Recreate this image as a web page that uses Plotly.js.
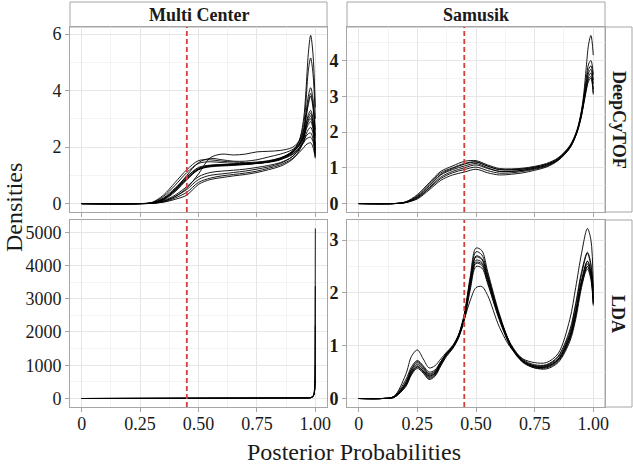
<!DOCTYPE html>
<html><head><meta charset="utf-8">
<script src="https://cdn.plot.ly/plotly-3.0.1.min.js"></script>
<style>html,body{margin:0;padding:0;background:#fff}#chart{width:633px;height:464px}</style>
</head><body><div id="chart"></div>
<script>
// ---------- tick labels / categories ----------
const colLabels = ['Multi Center', 'Samusik'];
const rowLabels = ['DeepCyTOF', 'LDA'];
const xTickVals = [0, 0.25, 0.5, 0.75, 1];
const xTickText = ['0', '0.25', '0.50', '0.75', '1.00'];
const yTickTL = [0, 2, 4, 6];
const yTickTR = [0, 1, 2, 3, 4];
const yTickBL = [0, 1000, 2000, 3000, 4000, 5000];
const yTickBR = [0, 1, 2, 3];
const threshold = 0.45;
const xTitle = 'Posterior Probabilities';
const yTitle = 'Densities';

// ---------- Multi Center / DeepCyTOF ----------
const TL_X = [0, 0.25, 0.3, 0.35, 0.4, 0.45, 0.5, 0.55, 0.6, 0.65, 0.7, 0.75, 0.8, 0.85, 0.9, 0.93, 0.95, 0.96, 0.97, 0.98, 0.99, 1.0];
const tl1  = [0, 0, 0.02, 0.12, 0.42, 0.85, 1.2, 1.33, 1.36, 1.38, 1.4, 1.42, 1.46, 1.55, 1.8, 2.2, 3.0, 4.0, 5.3, 5.95, 5.3, 3.4];
const tl2  = [0, 0, 0.02, 0.15, 0.5, 0.95, 1.25, 1.35, 1.37, 1.4, 1.42, 1.45, 1.5, 1.6, 1.85, 2.2, 2.8, 3.6, 4.7, 5.15, 4.6, 3.0];
const tl3  = [0, 0, 0.04, 0.3, 0.75, 1.2, 1.52, 1.55, 1.5, 1.47, 1.45, 1.47, 1.52, 1.62, 1.82, 2.1, 2.6, 3.2, 3.8, 4.1, 3.7, 2.6];
const tl4  = [0, 0, 0.01, 0.08, 0.25, 0.55, 1.05, 1.62, 1.75, 1.72, 1.75, 1.83, 1.85, 1.88, 1.98, 2.2, 2.6, 3.1, 3.6, 3.9, 3.5, 2.4];
const tl5  = [0, 0, 0.03, 0.2, 0.55, 0.95, 1.28, 1.36, 1.38, 1.38, 1.4, 1.43, 1.47, 1.57, 1.78, 2.05, 2.5, 3.0, 3.5, 3.8, 3.4, 2.3];
const tl6  = [0, 0, 0.01, 0.08, 0.25, 0.5, 0.85, 1.0, 1.05, 1.1, 1.15, 1.22, 1.3, 1.42, 1.65, 1.95, 2.35, 2.8, 3.15, 3.3, 3.0, 2.1];
const tl7  = [0, 0, 0.02, 0.18, 0.5, 0.9, 1.22, 1.32, 1.35, 1.37, 1.4, 1.44, 1.5, 1.6, 1.8, 2.05, 2.4, 2.8, 3.05, 3.2, 2.9, 2.0];
const tl8  = [0, 0, 0.01, 0.05, 0.15, 0.3, 0.68, 0.85, 0.92, 0.98, 1.03, 1.1, 1.2, 1.32, 1.55, 1.85, 2.25, 2.65, 2.95, 3.1, 2.8, 1.9];
const tl9  = [0, 0, 0.03, 0.25, 0.65, 1.1, 1.42, 1.48, 1.45, 1.42, 1.4, 1.42, 1.48, 1.6, 1.8, 2.05, 2.35, 2.6, 2.8, 2.9, 2.65, 1.8];
const tl10 = [0, 0, 0.01, 0.1, 0.3, 0.6, 0.95, 1.1, 1.15, 1.18, 1.22, 1.28, 1.35, 1.45, 1.65, 1.9, 2.2, 2.45, 2.62, 2.7, 2.5, 1.75];
const tl11 = [0, 0, 0.02, 0.15, 0.45, 0.85, 1.2, 1.3, 1.33, 1.35, 1.38, 1.42, 1.48, 1.58, 1.75, 1.95, 2.15, 2.28, 2.33, 2.35, 2.2, 1.7];
const tl12 = [0, 0, 0.01, 0.06, 0.2, 0.4, 0.75, 0.9, 0.98, 1.03, 1.08, 1.15, 1.25, 1.37, 1.58, 1.8, 1.98, 2.08, 2.13, 2.15, 2.0, 1.6];
const tl13 = [0, 0, 0.02, 0.15, 0.5, 1.0, 1.45, 1.6, 1.55, 1.5, 1.5, 1.55, 1.65, 1.75, 1.9, 2.1, 2.4, 2.7, 2.9, 3.0, 2.75, 1.9];
const tl14 = [0, 0, 0.02, 0.16, 0.48, 0.88, 1.22, 1.34, 1.37, 1.38, 1.4, 1.43, 1.48, 1.56, 1.72, 1.95, 2.2, 2.38, 2.47, 2.5, 2.3, 1.65];

// ---------- Samusik / DeepCyTOF ----------
const TR_X = [0, 0.15, 0.2, 0.25, 0.3, 0.35, 0.4, 0.45, 0.5, 0.55, 0.6, 0.65, 0.7, 0.75, 0.8, 0.85, 0.9, 0.93, 0.95, 0.96, 0.97, 0.98, 0.99, 1.0];
const tr1 = [0, 0, 0.04, 0.18, 0.48, 0.8, 0.95, 1.05, 1.12, 1.0, 0.9, 0.9, 0.93, 0.98, 1.06, 1.22, 1.55, 2.0, 2.6, 3.1, 3.8, 4.45, 4.7, 4.15];
const tr2 = [0, 0, 0.05, 0.25, 0.58, 0.9, 1.05, 1.18, 1.2, 1.08, 0.98, 0.97, 0.99, 1.04, 1.12, 1.28, 1.62, 2.05, 2.6, 3.0, 3.5, 3.9, 4.0, 3.6];
const tr3 = [0, 0, 0.04, 0.2, 0.5, 0.82, 0.98, 1.1, 1.16, 1.04, 0.95, 0.95, 0.97, 1.02, 1.1, 1.26, 1.6, 2.02, 2.55, 2.95, 3.4, 3.75, 3.85, 3.45];
const tr4 = [0, 0, 0.03, 0.16, 0.44, 0.74, 0.9, 1.0, 1.08, 0.98, 0.9, 0.9, 0.93, 0.99, 1.07, 1.24, 1.58, 2.0, 2.5, 2.9, 3.3, 3.65, 3.75, 3.35];
const tr5 = [0, 0, 0.03, 0.13, 0.38, 0.65, 0.8, 0.88, 0.96, 0.86, 0.8, 0.82, 0.86, 0.93, 1.02, 1.2, 1.55, 1.97, 2.45, 2.85, 3.25, 3.55, 3.65, 3.2];
const tr6 = [0, 0, 0.04, 0.22, 0.54, 0.86, 1.0, 1.12, 1.17, 1.05, 0.95, 0.94, 0.96, 1.01, 1.09, 1.25, 1.6, 2.0, 2.5, 2.85, 3.2, 3.48, 3.55, 3.1];
const tr7 = [0, 0, 0.03, 0.15, 0.42, 0.7, 0.86, 0.95, 1.02, 0.92, 0.85, 0.86, 0.9, 0.96, 1.04, 1.22, 1.56, 1.98, 2.48, 2.8, 3.15, 3.42, 3.5, 3.05];

// ---------- Multi Center / LDA ----------
const BL_X = [0, 0.25, 0.5, 0.75, 0.9, 0.95, 0.97, 0.98, 0.99, 0.995, 0.998, 0.999, 1.0];
const bl1 = [0, 0, 0, 0, 1, 4, 10, 20, 50, 120, 300, 650, 5112];
const bl2 = [0, 0, 0, 0, 1, 4, 10, 22, 55, 130, 320, 800, 3380];
const bl3 = [0, 0, 0, 0, 1, 4, 11, 24, 60, 140, 350, 700, 2200];
const bl4 = [0, 0, 0, 0, 1, 5, 12, 26, 65, 150, 330, 560, 1000];
const bl5 = [0, 0, 0, 0, 1, 4, 10, 22, 58, 135, 280, 420, 580];

// ---------- Samusik / LDA ----------
const BR_X = [0, 0.1, 0.15, 0.2, 0.225, 0.25, 0.275, 0.3, 0.325, 0.35, 0.375, 0.4, 0.425, 0.45, 0.475, 0.5, 0.525, 0.55, 0.6, 0.65, 0.7, 0.75, 0.8, 0.85, 0.9, 0.925, 0.95, 0.975, 0.99, 1.0];
const br1 = [0, 0, 0.04, 0.45, 0.8, 0.92, 0.75, 0.58, 0.62, 0.75, 0.88, 1.0, 1.2, 1.5, 1.85, 2.1, 2.12, 1.95, 1.35, 0.95, 0.75, 0.68, 0.68, 0.85, 1.5, 2.1, 2.75, 3.22, 3.0, 2.1];
const br2 = [0, 0, 0.03, 0.3, 0.55, 0.68, 0.58, 0.45, 0.5, 0.68, 0.85, 0.98, 1.2, 1.6, 2.3, 2.85, 2.8, 2.4, 1.6, 1.0, 0.72, 0.62, 0.62, 0.75, 1.2, 1.65, 2.2, 2.6, 2.4, 1.9];
const br3 = [0, 0, 0.03, 0.28, 0.52, 0.65, 0.55, 0.43, 0.48, 0.66, 0.84, 0.97, 1.18, 1.58, 2.25, 2.78, 2.72, 2.35, 1.55, 0.98, 0.7, 0.6, 0.6, 0.72, 1.15, 1.6, 2.2, 2.55, 2.35, 1.85];
const br4 = [0, 0, 0.03, 0.3, 0.56, 0.7, 0.6, 0.47, 0.52, 0.7, 0.86, 0.98, 1.18, 1.55, 2.2, 2.7, 2.65, 2.3, 1.55, 1.0, 0.72, 0.62, 0.63, 0.78, 1.25, 1.75, 2.35, 2.75, 2.5, 2.0];
const br5 = [0, 0, 0.03, 0.26, 0.5, 0.62, 0.52, 0.4, 0.46, 0.65, 0.83, 0.96, 1.16, 1.53, 2.15, 2.62, 2.58, 2.25, 1.52, 0.98, 0.7, 0.6, 0.6, 0.74, 1.2, 1.65, 2.25, 2.6, 2.4, 1.9];
const br6 = [0, 0, 0.02, 0.24, 0.47, 0.6, 0.5, 0.38, 0.44, 0.63, 0.82, 0.95, 1.15, 1.5, 2.1, 2.56, 2.52, 2.2, 1.5, 0.97, 0.7, 0.6, 0.6, 0.73, 1.15, 1.6, 2.2, 2.5, 2.3, 1.8];
const br7 = [0, 0, 0.02, 0.22, 0.45, 0.57, 0.48, 0.36, 0.42, 0.62, 0.8, 0.94, 1.14, 1.48, 2.05, 2.5, 2.47, 2.17, 1.48, 0.96, 0.68, 0.58, 0.58, 0.7, 1.12, 1.55, 2.15, 2.45, 2.25, 1.76];
const br8 = [0, 0, 0.04, 0.35, 0.6, 0.72, 0.62, 0.5, 0.54, 0.7, 0.86, 0.99, 1.19, 1.55, 2.15, 2.58, 2.55, 2.25, 1.55, 1.02, 0.74, 0.64, 0.64, 0.8, 1.3, 1.8, 2.4, 2.77, 2.55, 2.05];
const br9 = [0, 0, 0.02, 0.25, 0.48, 0.6, 0.52, 0.42, 0.48, 0.67, 0.84, 0.97, 1.17, 1.56, 2.2, 2.68, 2.63, 2.3, 1.56, 1.0, 0.7, 0.58, 0.56, 0.68, 1.08, 1.5, 2.1, 2.5, 2.35, 1.8];

const TL = [tl1, tl2, tl3, tl4, tl5, tl6, tl7, tl8, tl9, tl10, tl11, tl12, tl13, tl14];
const TR = [tr1, tr2, tr3, tr4, tr5, tr6, tr7];
const BL = [bl1, bl2, bl3, bl4, bl5];
const BR = [br1, br2, br3, br4, br5, br6, br7, br8, br9];

// ---------- layout geometry (pixels) ----------
const W = 633, H = 464;
const colL = [70, 327], colR = [347, 605];
const rowT = [27, 212], rowB = [220, 407];
const stripTop = [2, 27], stripRight = [605, 632];
const fx = p => p / W;
const fy = p => 1 - p / H;
const xd = c => [fx(c[0]), fx(c[1])];
const yd = r => [fy(r[1]), fy(r[0])];

const FONT = 'Liberation Serif';
const BORDER = '#a6a6a6';
const GRID = '#e6e6e6';
const MINOR = '#f3f3f3';

function expandRange(vals) {
  let mx = -Infinity, mn = Infinity;
  vals.forEach(a => a.forEach(v => { if (v > mx) mx = v; if (v < mn) mn = v; }));
  const pad = (mx - mn) * 0.05;
  return [mn - pad, mx + pad];
}
function minorOf(t) {
  const out = [];
  const step = t[1] - t[0];
  for (let i = 0; i < t.length; i++) out.push(t[i] + step / 2);
  out.unshift(t[0] - step / 2);
  return out;
}

function xAxis(col, row, anchor, showLabels) {
  return {
    domain: xd(col), anchor: anchor, range: [-0.05, 1.05],
    tickmode: 'array', tickvals: xTickVals, ticktext: xTickText,
    showticklabels: showLabels, ticklabelstandoff: -4,
    tickfont: {family: FONT, size: 18, color: '#1a1a1a'},
    ticks: 'outside', ticklen: 4, tickcolor: BORDER, tickwidth: 1,
    showgrid: true, gridcolor: GRID, gridwidth: 1,
    minor: {tickmode: 'array', tickvals: minorOf(xTickVals), showgrid: true, gridcolor: MINOR, gridwidth: 1, ticks: ''},
    zeroline: false, showline: true, mirror: true, linecolor: BORDER, linewidth: 1,
    fixedrange: true
  };
}
function yAxis(row, anchor, ticks, range, bold) {
  return {
    domain: yd(row), anchor: anchor, range: range,
    tickmode: 'array', tickvals: ticks, ticktext: ticks.map(String),
    tickfont: {family: FONT, size: 18, color: '#1a1a1a', weight: bold ? 'bold' : 'normal'},
    ticks: 'outside', ticklen: 4, tickcolor: BORDER, tickwidth: 1,
    showgrid: true, gridcolor: GRID, gridwidth: 1,
    minor: {tickmode: 'array', tickvals: minorOf(ticks), showgrid: true, gridcolor: MINOR, gridwidth: 1, ticks: ''},
    zeroline: false, showline: true, mirror: true, linecolor: BORDER, linewidth: 1,
    fixedrange: true
  };
}

const traces = [];
function addPanel(xs, curves, xa, ya, shape) {
  curves.forEach(ys => traces.push({
    type: 'scatter', mode: 'lines', x: xs, y: ys, xaxis: xa, yaxis: ya,
    line: {color: 'rgba(0,0,0,0.9)', width: 1, shape: shape, smoothing: 0.9},
    hoverinfo: 'skip', showlegend: false
  }));
}
addPanel(TL_X, TL, 'x', 'y', 'spline');
addPanel(TR_X, TR, 'x2', 'y2', 'spline');
addPanel(BL_X, BL, 'x3', 'y3', 'linear');
addPanel(BR_X, BR, 'x4', 'y4', 'spline');

const shapes = [];
[['x', 'y'], ['x2', 'y2'], ['x3', 'y3'], ['x4', 'y4']].forEach(([xa, ya]) => {
  shapes.push({type: 'line', xref: xa, yref: ya + ' domain', x0: threshold, x1: threshold, y0: 0, y1: 1,
    line: {color: 'rgb(214,62,62)', width: 1.8, dash: '5px,3px'}, layer: 'above'});
});
// strips
[colL, colR].forEach(c => shapes.push({type: 'rect', xref: 'paper', yref: 'paper',
  x0: fx(c[0]), x1: fx(c[1]), y0: fy(stripTop[1]), y1: fy(stripTop[0]),
  fillcolor: '#ffffff', line: {color: BORDER, width: 1}, layer: 'below'}));
[rowT, rowB].forEach(r => shapes.push({type: 'rect', xref: 'paper', yref: 'paper',
  x0: fx(stripRight[0]), x1: fx(stripRight[1]), y0: fy(r[1]), y1: fy(r[0]),
  fillcolor: '#ffffff', line: {color: BORDER, width: 1}, layer: 'below'}));

const annotations = [];
[colL, colR].forEach((c, i) => annotations.push({xref: 'paper', yref: 'paper',
  x: fx((c[0] + c[1]) / 2), y: fy((stripTop[0] + stripTop[1]) / 2), text: '<b>' + colLabels[i] + '</b>',
  showarrow: false, xanchor: 'center', yanchor: 'middle', font: {family: FONT, size: 18, color: '#1a1a1a'}}));
[rowT, rowB].forEach((r, i) => annotations.push({xref: 'paper', yref: 'paper',
  x: fx((stripRight[0] + stripRight[1]) / 2), y: fy((r[0] + r[1]) / 2), text: '<b>' + rowLabels[i] + '</b>',
  textangle: 90, showarrow: false, xanchor: 'center', yanchor: 'middle', font: {family: FONT, size: 18, color: '#1a1a1a'}}));
annotations.push({xref: 'paper', yref: 'paper', x: fx(14), y: fy(208), text: yTitle, textangle: -90,
  showarrow: false, xanchor: 'center', yanchor: 'middle', font: {family: FONT, size: 24, color: '#1a1a1a'}});
annotations.push({xref: 'paper', yref: 'paper', x: fx(354), y: fy(452), text: xTitle,
  showarrow: false, xanchor: 'center', yanchor: 'middle', font: {family: FONT, size: 24, color: '#1a1a1a'}});

const layout = {
  width: W, height: H, autosize: false,
  margin: {l: 0, r: 0, t: 0, b: 0, pad: 0},
  paper_bgcolor: '#ffffff', plot_bgcolor: '#ffffff',
  showlegend: false,
  xaxis: xAxis(colL, rowT, 'y', false),
  xaxis2: xAxis(colR, rowT, 'y2', false),
  xaxis3: xAxis(colL, rowB, 'y3', true),
  xaxis4: xAxis(colR, rowB, 'y4', true),
  yaxis: yAxis(rowT, 'x', yTickTL, expandRange(TL), false),
  yaxis2: yAxis(rowT, 'x2', yTickTR, expandRange(TR), true),
  yaxis3: yAxis(rowB, 'x3', yTickBL, expandRange(BL), false),
  yaxis4: yAxis(rowB, 'x4', yTickBR, expandRange(BR), true),
  shapes: shapes,
  annotations: annotations
};

Plotly.newPlot('chart', traces, layout, {staticPlot: true, displayModeBar: false});
</script>
</body></html>
